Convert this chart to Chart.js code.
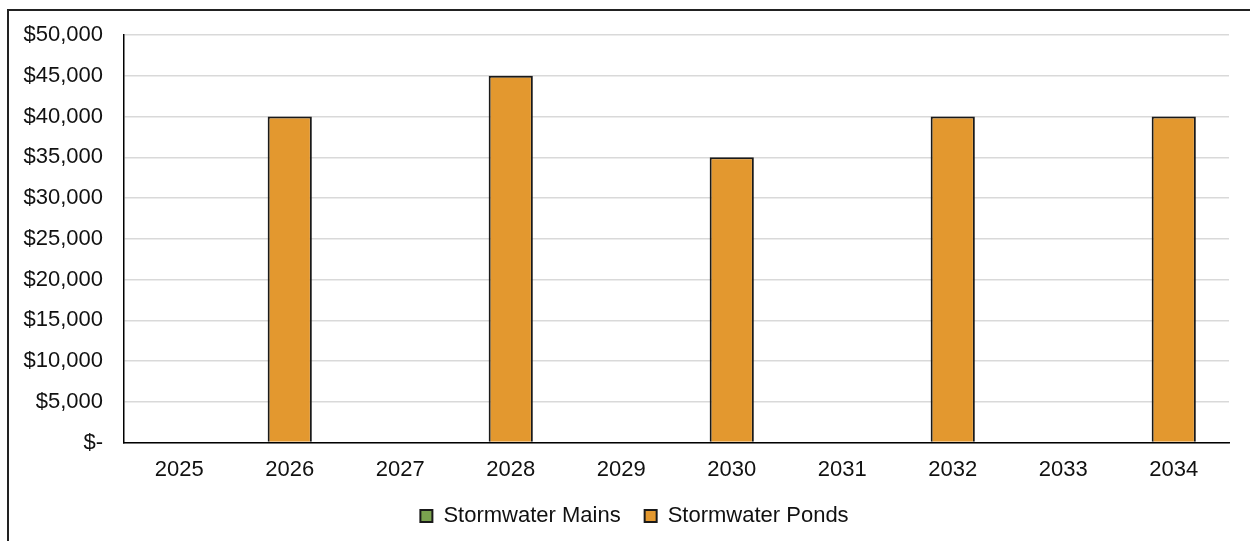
<!DOCTYPE html>
<html>
<head>
<meta charset="utf-8">
<script src="https://cdn.jsdelivr.net/npm/chart.js@4/dist/chart.umd.min.js"></script>
<style>
    html, body { margin: 0; padding: 0; background: #fff; }
    #wrap { position: relative; width: 1250px; height: 541px; }
</style>
</head>
<body>
<div id="wrap"><canvas id="c" width="1250" height="541"></canvas></div>
<script>
(function () {
    'use strict';

    // 数据
    const years = ['2025', '2026', '2027', '2028', '2029', '2030', '2031', '2032', '2033', '2034'];
    const mains = [0, 0, 0, 0, 0, 0, 0, 0, 0, 0];
    const ponds = [0, 40000, 0, 45000, 0, 35000, 0, 40000, 0, 40000];
    const yMax = 50000;
    const yStep = 5000;

    const FONT = { family: 'Liberation Sans, Arial, sans-serif', size: 22 };
    const COLORS = {
        mains: '#7ba34f',
        ponds: '#e3982f',
        edge: '#1a1a1a',
        grid: '#d9d9d9',
        text: '#111',
    };

    function money(v) {
        if (v === 0) return '$-';
        return '$' + v.toLocaleString('en-US');
    }

    // 外框 + 图例右移
    const frame = {
        id: 'frame',
        afterLayout(chart) {
            if (chart.legend) {
                chart.legend.left += 20;
                chart.legend.right += 20;
            }
        },
        beforeDraw(chart) {
            const ctx = chart.ctx;
            ctx.save();
            ctx.fillStyle = '#fff';
            ctx.fillRect(0, 0, chart.width, chart.height);
            ctx.strokeStyle = '#222';
            ctx.lineWidth = 2;
            ctx.strokeRect(8, 10, 1400, 700);
            ctx.restore();
        },
    };

    Chart.defaults.color = COLORS.text;
    Chart.defaults.font = FONT;

    new Chart(document.getElementById('c'), {
        type: 'bar',
        data: {
            labels: years,
            datasets: [
                {
                    label: 'Stormwater Mains',
                    data: mains,
                    backgroundColor: COLORS.mains,
                    borderColor: COLORS.edge,
                    borderWidth: 2,
                    grouped: false,
                    barPercentage: 0.4,
                    categoryPercentage: 1,
                },
                {
                    label: 'Stormwater Ponds',
                    data: ponds,
                    backgroundColor: COLORS.ponds,
                    borderColor: COLORS.edge,
                    borderWidth: 2,
                    grouped: false,
                    barPercentage: 0.4,
                    categoryPercentage: 1,
                },
            ],
        },
        options: {
            responsive: false,
            animation: false,
            layout: { padding: { left: 0, right: 21, top: 35, bottom: 4 } },
            plugins: {
                legend: {
                    position: 'bottom',
                    labels: {
                        boxWidth: 12,
                        boxHeight: 12,
                        padding: 24,
                        font: FONT,
                        color: COLORS.text,
                    },
                },
                tooltip: { enabled: false },
            },
            scales: {
                x: {
                    grid: { display: false, drawTicks: false },
                    border: { display: true, color: '#000', width: 1.5 },
                    ticks: { padding: 14, font: FONT, color: COLORS.text, maxRotation: 0 },
                    afterFit(scale) { scale.height -= 16; },
                },
                y: {
                    min: 0,
                    max: yMax,
                    grid: { color: COLORS.grid, lineWidth: 1.5, drawTicks: false },
                    border: { display: true, color: '#000', width: 1.5 },
                    ticks: {
                        stepSize: yStep,
                        padding: 21,
                        font: FONT,
                        color: COLORS.text,
                        callback: money,
                    },
                    afterFit(scale) { scale.width = 124; },
                },
            },
        },
        plugins: [frame],
    });
})();
</script>
</body>
</html>
